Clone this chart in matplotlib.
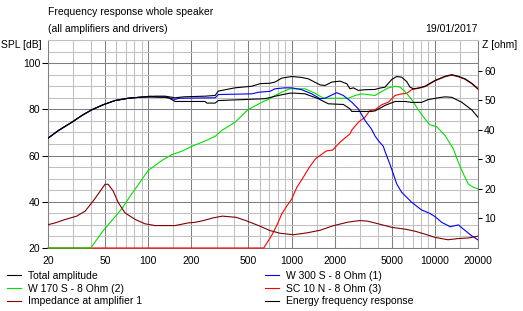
import matplotlib
matplotlib.use("Agg")
import matplotlib.pyplot as plt
from matplotlib.ticker import NullFormatter
from matplotlib.lines import Line2D

plt.rcParams['font.family'] = ['Liberation Sans', 'DejaVu Sans']
plt.rcParams['font.size'] = 7.5

# Total amplitude (dB)
total_f = [20, 23.6, 29.3, 34.4, 40.4, 48.6, 58.7, 72.7, 90, 112, 131, 154, 176, 250, 293, 309, 403,
           528, 603, 708, 767, 854, 1003, 1178, 1310, 1580, 1712, 1908, 2180, 2427, 2560, 2700, 2926,
           3256, 3822, 4143, 4490, 5000, 5420, 5870, 6360, 6710, 7070, 7666, 8537, 10020, 11770,
           13110, 14580, 16230, 18070, 20000]
total_db = [67.5, 70.8, 74.4, 77.3, 79.8, 82.0, 83.8, 84.8, 85.3, 85.7, 85.7, 85.0, 85.4, 85.7, 86.0,
            87.9, 89.3, 90.0, 91.1, 91.3, 91.8, 93.5, 94.2, 93.8, 93.2, 90.6, 90.3, 91.8, 92.2, 91.1,
            88.9, 89.3, 88.2, 88.5, 88.6, 89.2, 89.6, 92.9, 94.2, 93.9, 92.0, 89.6, 88.9, 89.2, 90.0,
            92.5, 94.3, 95.0, 94.3, 93.2, 91.3, 88.9]

# Energy frequency response (dB)
energy_f = [20, 23.6, 29.3, 34.4, 40.4, 48.6, 58.7, 72.7, 90, 112, 131, 140, 154, 200, 249, 257, 293,
            309, 653, 809, 975, 1057, 1242, 1538, 1806, 2300, 2560, 2630, 3610, 3822, 4490, 5275,
            6192, 6890, 8060, 8980, 10550, 11770, 13110, 15370, 18070, 20000]
energy_db = [67.5, 70.8, 74.4, 77.3, 79.8, 82.0, 83.8, 84.8, 85.3, 85.3, 85.2, 84.9, 83.4, 83.4, 83.4,
             82.7, 82.7, 83.8, 84.6, 86.0, 87.0, 87.0, 86.7, 84.6, 82.4, 82.1, 80.2, 79.1, 79.1, 79.3,
             81.7, 83.4, 83.4, 83.0, 83.0, 84.2, 85.0, 85.4, 85.2, 83.1, 79.8, 76.6]

# W 300 S - 8 Ohm (1)
w300_f = [20, 23.6, 29.3, 34.4, 40.4, 48.6, 58.7, 72.7, 90, 103, 112, 131, 154, 165, 293, 309, 528,
          590, 708, 767, 900, 1003, 1178, 1384, 1580, 1712, 2066, 2300, 2630, 2926, 3256, 3610, 3822,
          4030, 4370, 4490, 4850, 5130, 5420, 5870, 6890, 8060, 9200, 10020, 11170, 12800, 14580,
          15800, 18070, 20000]
w300_db = [67.5, 70.8, 74.4, 77.3, 79.8, 82.0, 83.8, 84.8, 85.3, 85.7, 85.4, 85.3, 84.3, 84.8, 85.0,
           86.4, 86.7, 87.4, 87.8, 88.9, 89.3, 89.3, 88.5, 86.7, 84.6, 84.8, 87.2, 86.0, 83.1, 80.2,
           75.2, 71.5, 68.5, 66.5, 64.0, 61.8, 56.4, 52.1, 47.7, 44.1, 39.8, 36.5, 35.0, 33.6, 31.1,
           29.2, 30.0, 28.2, 25.3, 23.5]

# W 170 S - 8 Ohm (2)
w170_f = [20, 39.7, 48.6, 65.3, 76.7, 90, 100, 124, 146, 172, 200, 256, 293, 325, 403, 496, 621, 708,
          767, 854, 975, 1242, 1458, 1668, 2490, 2774, 3090, 3822, 4258, 4738, 5275, 5715, 6192, 6890,
          7666, 8537, 9200, 10290, 10860, 11770, 13460, 14580, 15800, 17100, 18500, 20000]
w170_db = [20, 20, 27.5, 36.9, 43.4, 49.5, 53.5, 57.8, 60.4, 61.9, 63.9, 66.6, 68.3, 70.8, 74.4, 79.8,
           83.1, 84.6, 86.0, 87.4, 88.9, 88.9, 87.0, 84.8, 84.8, 86.0, 86.7, 86.0, 87.7, 89.3, 90.0,
           89.6, 87.7, 84.3, 79.8, 75.8, 73.4, 72.5, 71.0, 68.7, 62.9, 57.1, 52.1, 47.7, 46.3, 45.6]

# SC 10 N - 8 Ohm (3)
sc10_f = [20, 640, 725, 798, 854, 930, 1000, 1090, 1200, 1330, 1470, 1580, 1750, 1940, 2180, 2560,
          2630, 2926, 3256, 3520, 3822, 4258, 4738, 5275, 5870, 6360, 6890, 7666, 8537, 10020, 11770,
          13110, 14580, 16230, 18070, 20000]
sc10_db = [20, 20, 25.3, 30.4, 34.7, 38.3, 41.0, 46.3, 50.3, 54.9, 58.6, 60.0, 62.0, 62.4, 65.8, 69.4,
           71.0, 74.4, 76.6, 79.5, 79.8, 82.0, 83.1, 86.0, 86.7, 86.9, 88.5, 89.1, 89.8, 92.3, 94.1,
           94.8, 94.1, 93.0, 91.1, 88.7]

# Impedance at amplifier 1 (ohm)
imp_f = [20, 22.4, 26.1, 31.7, 36.3, 41.3, 46.3, 50, 52.6, 57, 62, 68.9, 81, 95, 112, 154, 190, 212,
         243, 283, 330, 410, 480, 603, 708, 832, 1030, 1270, 1580, 1940, 2490, 3000, 3400, 4030, 5000,
         6180, 7260, 8540, 10020, 12350, 14580, 17100, 20000]
imp_ohm = [7.9, 8.5, 9.6, 10.8, 12.5, 15.9, 19.3, 21.6, 21.6, 19.3, 15.3, 11.9, 9.7, 8.2, 7.6, 7.6,
           8.5, 8.7, 9.3, 10.2, 10.8, 10.4, 9.3, 7.4, 5.9, 5.0, 4.5, 5.1, 6.0, 7.5, 8.8, 9.3, 9.1, 8.2,
           7.0, 6.4, 5.7, 4.7, 3.6, 2.8, 3.2, 3.4, 4.0]

x_major = [20, 50, 100, 200, 500, 1000, 2000, 5000, 10000, 20000]
x_minor = [30, 40, 60, 70, 80, 90, 150, 300, 400, 600, 700, 800, 900, 1500, 3000, 4000, 6000, 7000,
           8000, 9000, 15000]

fig = plt.figure(figsize=(5.23, 3.11), dpi=100)
ax = fig.add_axes([48 / 523, 1 - 248 / 311, 430 / 523, 208 / 311])

lw = 0.8
green = '#00e000'
ax.plot(sc10_f, sc10_db, color='#ff0000', lw=lw, clip_on=False, zorder=3)
ax.plot(w170_f, w170_db, color=green, lw=lw, clip_on=False, zorder=3)
ax.plot(w300_f, w300_db, color='#0000ff', lw=lw, zorder=3)
ax.plot(energy_f, energy_db, color='black', lw=lw, zorder=3)
ax.plot(total_f, total_db, color='black', lw=lw, zorder=3)

ax.set_xscale('log')
ax.set_xlim(20, 20000)
ax.set_ylim(20, 110)
ax.set_xticks(x_major)
ax.set_xticklabels([str(v) for v in x_major])
ax.set_xticks(x_minor, minor=True)
ax.xaxis.set_minor_formatter(NullFormatter())
ax.set_yticks([20, 40, 60, 80, 100])
ax.set_yticks([25, 30, 35, 45, 50, 55, 65, 70, 75, 85, 90, 95, 105], minor=True)
ax.grid(which='major', color='#808080', lw=0.75)
ax.grid(which='minor', color='#c0c0c0', lw=0.75)
ax.set_axisbelow(True)
ax.tick_params(axis='x', which='both', length=0, pad=6)
ax.tick_params(axis='y', which='major', length=4, width=0.75, pad=1.5, direction='out')
ax.tick_params(axis='y', which='minor', length=0)
for s in ['left', 'right', 'bottom']:
    ax.spines[s].set_color('#808080')
    ax.spines[s].set_linewidth(0.75)
ax.spines['top'].set_color('#c0c0c0')
ax.spines['top'].set_linewidth(0.75)

ax2 = ax.twinx()
ax2.plot(imp_f, imp_ohm, color='#800000', lw=lw)
ax2.set_ylim(0, 70.5)
ax2.set_yticks([10, 20, 30, 40, 50, 60])
ax2.tick_params(axis='y', length=3, width=0.75, pad=1.5)
for s in ax2.spines.values():
    s.set_visible(False)

fig.text(48 / 523, 1 - 12 / 311, "Frequency response whole speaker", ha='left', va='center')
fig.text(48 / 523, 1 - 29 / 311, "(all amplifiers and drivers)", ha='left', va='center')
fig.text(478 / 523, 1 - 29 / 311, "19/01/2017", ha='right', va='center')
fig.text(1 / 523, 1 - 45 / 311, "SPL [dB]", ha='left', va='center')
fig.text(482 / 523, 1 - 45 / 311, "Z [ohm]", ha='left', va='center')

def h(c):
    return Line2D([], [], color=c, lw=0.8)

leg_opts = dict(frameon=False, borderpad=0, borderaxespad=0, handlelength=1.35,
                handletextpad=0.65, labelspacing=0.25, loc='upper left')
fig.legend([h('black'), h(green), h('#800000')],
           ["Total amplitude", "W 170 S - 8 Ohm (2)", "Impedance at amplifier 1"],
           bbox_to_anchor=(7 / 523, 1 - 271 / 311), **leg_opts)
fig.legend([h('#0000ff'), h('#ff0000'), h('black')],
           ["W 300 S - 8 Ohm (1)", "SC 10 N - 8 Ohm (3)", "Energy frequency response"],
           bbox_to_anchor=(265 / 523, 1 - 271 / 311), **leg_opts)

fig.savefig("out.png", dpi=100)
